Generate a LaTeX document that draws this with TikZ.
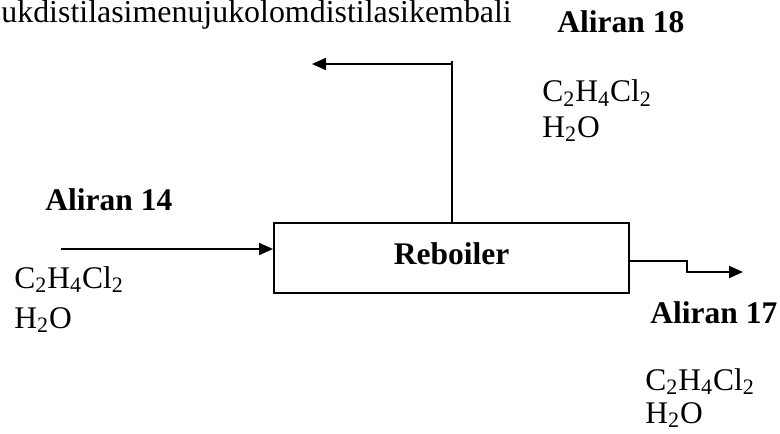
\documentclass[tikz,border=0pt]{standalone}
\usepackage{fontspec}
\setmainfont{Liberation Serif}
\usetikzlibrary{arrows.meta}
\tikzset{
  lbl/.style={inner sep=0pt, anchor=base west, font=\fontsize{15.75}{18}\selectfont},
  blbl/.style={lbl, font=\fontsize{15.75}{18}\selectfont\bfseries},
  flow/.style={line width=1pt, -{Triangle[length=7pt,width=6pt]}},
  pipe/.style={line width=1pt},
  boxst/.style={draw, line width=1pt, minimum width=177.5pt, minimum height=35pt, inner sep=0pt}
}
\begin{document}
\begin{tikzpicture}[x=0.5pt,y=-0.5pt]
\useasboundingbox (0,0) rectangle (780,433);
\node[lbl, font=\fontsize{15.95}{18}\selectfont] (top) at (1,23) {ukdistilasimenujukolomdistilasikembali};
\node[boxst] (box) at (451.5,258) {};
\node[blbl, anchor=base] (reb) at (451.5,264) {Reboiler};
% labels
\node[blbl] (a18) at (557,33) {Aliran 18};
\node[lbl] (c18) at (542,102) {C\textsubscript{2}H\textsubscript{4}Cl\textsubscript{2}};
\node[lbl] (h18) at (542,137) {H\textsubscript{2}O};
\node[blbl] (a14) at (45,210) {Aliran 14};
\node[lbl] (c14) at (14,288) {C\textsubscript{2}H\textsubscript{4}Cl\textsubscript{2}};
\node[lbl] (h14) at (14,328) {H\textsubscript{2}O};
\node[blbl] (a17) at (650,323) {Aliran 17};
\node[lbl] (c17) at (645,390) {C\textsubscript{2}H\textsubscript{4}Cl\textsubscript{2}};
\node[lbl] (h17) at (645,423) {H\textsubscript{2}O};
% connectors
\coordinate (in0) at (61,249);
\draw[flow] (in0) -- (in0 -| box.west);
\coordinate (topc) at (452,64);
\coordinate (topend) at (452,61);
\coordinate (toptip) at (312,64);
\draw[pipe] (topend |- box.north) -- (topend);
\draw[flow] (topc) -- (toptip);
\coordinate (o1) at (687,261);
\coordinate (o2) at (687,272);
\coordinate (o3) at (743,272);
\draw[flow] (o1 -| box.east) -- (o1) -- (o2) -- (o3);
\end{tikzpicture}
\end{document}
